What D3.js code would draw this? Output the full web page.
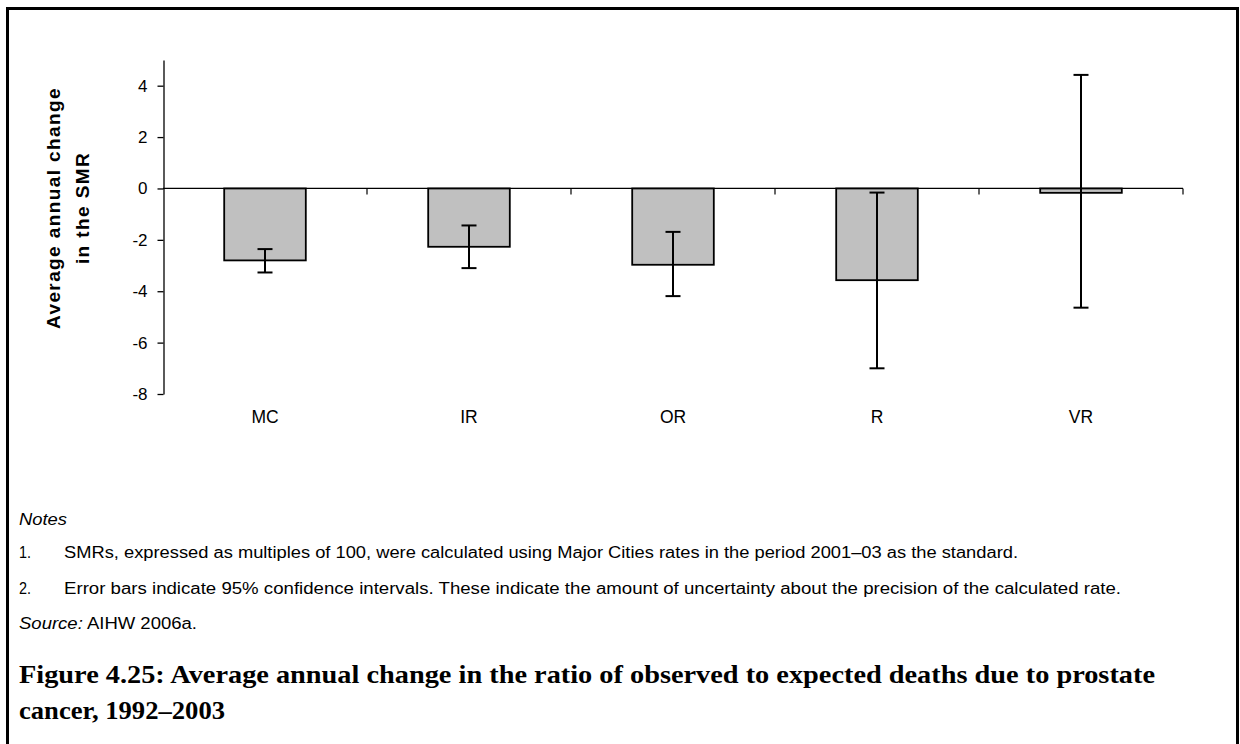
<!DOCTYPE html>
<html>
<head>
<meta charset="utf-8">
<script src="https://cdn.jsdelivr.net/npm/d3@7"></script>
<style>
  body { margin: 0; background: #fff; }
  svg { display: block; }
</style>
</head>
<body>
<svg id="chart" width="1240" height="744"></svg>
<script>
const categories = ["MC", "IR", "OR", "R", "VR"];
const values = [-2.8, -2.27, -2.97, -3.57, -0.17];
const lower = [-3.27, -3.1, -4.19, -7.0, -4.64];
const upper = [-2.36, -1.44, -1.69, -0.16, 4.42];
const yTicks = [-8, -6, -4, -2, 0, 2, 4];

const sans = "Liberation Sans, Arial, sans-serif";
const svg = d3.select("#chart");

// page frame
svg.append("rect")
  .attr("x", 7.5).attr("y", 8.5)
  .attr("width", 1230).attr("height", 780)
  .attr("fill", "none").attr("stroke", "#000").attr("stroke-width", 3);

const x = d3.scaleBand().domain(categories).range([163, 1183]).paddingInner(0.6).paddingOuter(0.3);
const y = d3.scaleLinear().domain([-8, 5]).range([394, 60]);

const rows = categories.map((c, i) => ({ c, v: values[i], lo: lower[i], hi: upper[i] }));

// bars
svg.append("g")
  .selectAll("rect")
  .data(rows)
  .join("rect")
  .attr("x", (d) => x(d.c))
  .attr("width", x.bandwidth())
  .attr("y", (d) => y(Math.max(0, d.v)))
  .attr("height", (d) => Math.abs(y(d.v) - y(0)))
  .attr("fill", "#c0c0c0")
  .attr("stroke", "#000")
  .attr("stroke-width", 1.8);

// y axis
const yAxis = svg.append("g")
  .attr("transform", "translate(163.5,0)")
  .call(d3.axisLeft(y).tickValues(yTicks).tickSize(6).tickSizeOuter(0).tickPadding(10).tickFormat((d) => String(d)));
yAxis.select(".domain").attr("stroke-width", 1.3);
yAxis.selectAll(".tick line").attr("stroke-width", 1.3);
yAxis.selectAll("text").attr("font-size", 17).attr("font-family", sans).attr("fill", "#000");

// zero line with category boundary ticks
const step = x.step();
const bounds = d3.range(categories.length + 1).map((i) => x.range()[0] + i * step);
svg.append("line")
  .attr("x1", x.range()[0]).attr("x2", x.range()[1])
  .attr("y1", y(0)).attr("y2", y(0))
  .attr("stroke", "#000").attr("stroke-width", 1.3);
svg.append("g")
  .selectAll("line")
  .data(bounds.slice(1))
  .join("line")
  .attr("x1", (d) => d).attr("x2", (d) => d)
  .attr("y1", y(0)).attr("y2", y(0) + 6)
  .attr("stroke", "#000").attr("stroke-width", 1.2);

// category labels
const xAxis = svg.append("g")
  .attr("transform", `translate(0,${y(-8)})`)
  .call(d3.axisBottom(x).tickSize(0).tickPadding(17));
xAxis.select(".domain").remove();
xAxis.selectAll("text").attr("font-size", 17.5).attr("font-family", sans).attr("fill", "#000");

// error bars
const eb = svg.append("g").attr("stroke", "#000").attr("stroke-width", 2);
const cx = (d) => x(d.c) + x.bandwidth() / 2;
eb.selectAll("line.v").data(rows).join("line").attr("class", "v")
  .attr("x1", cx).attr("x2", cx)
  .attr("y1", (d) => y(d.hi)).attr("y2", (d) => y(d.lo));
eb.selectAll("line.t").data(rows).join("line").attr("class", "t")
  .attr("x1", (d) => cx(d) - 7.5).attr("x2", (d) => cx(d) + 7.5)
  .attr("y1", (d) => y(d.hi)).attr("y2", (d) => y(d.hi));
eb.selectAll("line.b").data(rows).join("line").attr("class", "b")
  .attr("x1", (d) => cx(d) - 7.5).attr("x2", (d) => cx(d) + 7.5)
  .attr("y1", (d) => y(d.lo)).attr("y2", (d) => y(d.lo));

// y axis title
const yt = svg.append("text")
  .attr("transform", `translate(0,${(60 + 394) / 2 - 19}) rotate(-90)`)
  .attr("text-anchor", "middle")
  .attr("font-family", sans)
  .attr("font-weight", "bold")
  .attr("font-size", 19)
  .attr("letter-spacing", 1.4)
  .attr("fill", "#000");
yt.append("tspan").attr("x", 0).attr("y", 60).text("Average annual change");
yt.append("tspan").attr("x", 0).attr("y", 89).text("in the SMR");

// notes
const notes = svg.append("g")
  .attr("font-family", sans)
  .attr("font-size", 16)
  .attr("fill", "#000");
const fit = { lengthAdjust: "spacingAndGlyphs" };
notes.append("text").attr("x", 19).attr("y", 525).attr("font-style", "italic")
  .attr("textLength", 48).attr("lengthAdjust", fit.lengthAdjust).text("Notes");
notes.append("text").attr("x", 19).attr("y", 558)
  .attr("textLength", 12).attr("lengthAdjust", fit.lengthAdjust).text("1.");
notes.append("text").attr("x", 64).attr("y", 558)
  .attr("textLength", 954).attr("lengthAdjust", fit.lengthAdjust)
  .text("SMRs, expressed as multiples of 100, were calculated using Major Cities rates in the period 2001–03 as the standard.");
notes.append("text").attr("x", 19).attr("y", 594)
  .attr("textLength", 12).attr("lengthAdjust", fit.lengthAdjust).text("2.");
notes.append("text").attr("x", 64).attr("y", 594)
  .attr("textLength", 1057).attr("lengthAdjust", fit.lengthAdjust)
  .text("Error bars indicate 95% confidence intervals. These indicate the amount of uncertainty about the precision of the calculated rate.");
const src = notes.append("text").attr("x", 19).attr("y", 629)
  .attr("textLength", 178).attr("lengthAdjust", fit.lengthAdjust);
src.append("tspan").attr("font-style", "italic").text("Source:");
src.append("tspan").text(" AIHW 2006a.");

// caption
const cap = svg.append("g")
  .attr("font-family", "Liberation Serif, 'Times New Roman', serif")
  .attr("font-weight", "bold")
  .attr("font-size", 26)
  .attr("fill", "#000");
cap.append("text").attr("x", 19).attr("y", 683)
  .attr("textLength", 1136).attr("lengthAdjust", "spacingAndGlyphs")
  .text("Figure 4.25: Average annual change in the ratio of observed to expected deaths due to prostate");
cap.append("text").attr("x", 19).attr("y", 719)
  .attr("textLength", 206).attr("lengthAdjust", "spacingAndGlyphs")
  .text("cancer, 1992–2003");
</script>
</body>
</html>
